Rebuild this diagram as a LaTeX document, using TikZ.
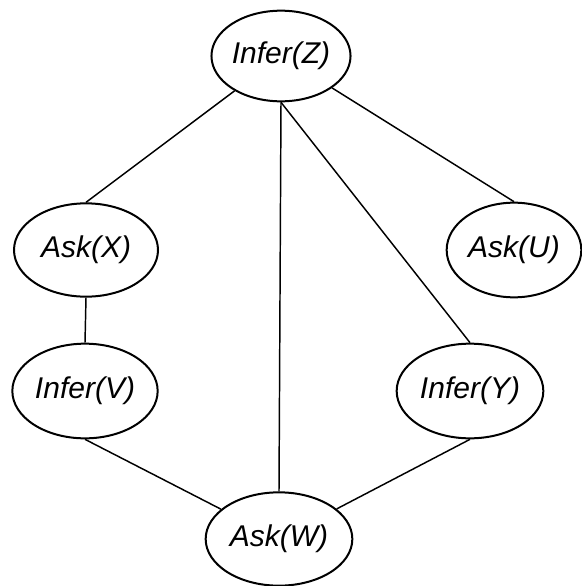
\documentclass[tikz,border=0pt]{standalone}
\usepackage{fontspec}
\setmainfont{Liberation Sans}
\usetikzlibrary{shapes.geometric}

\begin{document}
\begin{tikzpicture}[x=0.75pt, y=-0.75pt, font=\itshape\fontsize{22.5}{26}\selectfont]
  \tikzset{
      goal/.style={ellipse, draw, line width=1.5pt, inner sep=0pt},
      link/.style={line width=1.1pt}
  }
  \useasboundingbox (0, 0) rectangle (582, 586);

  \begin{scope}[every node/.style={goal}]
      \node (iz) at (281, 56) [minimum width=100pt, minimum height=68pt] {Infer(Z)};
      \node (ax) at (86, 250) [minimum width=108pt, minimum height=70pt] {Ask(X)};
      \node (au) at (514, 250) [minimum width=101pt, minimum height=71pt] {Ask(U)};
      \node (iv) at (85, 391) [minimum width=109pt, minimum height=71pt] {Infer(V)};
      \node (iy) at (470, 391) [minimum width=110pt, minimum height=71pt] {Infer(Y)};
      \node (aw) at (279, 539) [minimum width=110pt, minimum height=70pt] {Ask(W)};
  \end{scope}

  \def\links{iz/ax.north, iz/au.north, iz.south/aw.north, iz.south/iy.north,
             ax.south/iv.north, iv.south/aw, iy.south/aw}
  \foreach \a/\b in \links { \draw [link] (\a) -- (\b); }
\end{tikzpicture}
\end{document}
